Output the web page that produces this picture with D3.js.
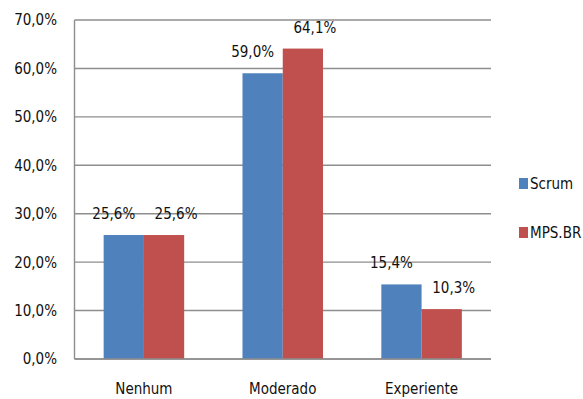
<!DOCTYPE html>
<html lang="pt">
<head>
  <meta charset="UTF-8">
  <title>Experiência</title>
  <script src="https://d3js.org/d3.v7.min.js"></script>
  <style>
    body {
      margin: 0;
      background: #fff;
      overflow: hidden;
    }
    text {
      font-family: "DejaVu Sans Condensed", "Liberation Sans Narrow", "DejaVu Sans", sans-serif;
      fill: #111;
      font-size: 15px;
    }
  </style>
</head>
<body>
  <div id="chart"></div>
  <script>
    const categories = ["Nenhum", "Moderado", "Experiente"];
    const seriesNames = ["Scrum", "MPS.BR"];
    const scrumValues = [25.6, 59.0, 15.4];
    const mpsValues = [25.6, 64.1, 10.3];
    const yTicks = [0, 10, 20, 30, 40, 50, 60, 70];

    const colors = { "Scrum": "#4f81bd", "MPS.BR": "#c0504d" };
    const fmt = v => v.toFixed(1).replace(".", ",") + "%";

    const width = 583, height = 399;
    const margin = { top: 20, right: 92, bottom: 40, left: 74.5 };

    const svg = d3.select("#chart").append("svg")
      .attr("width", width)
      .attr("height", height);

    const x = d3.scaleBand()
      .domain(categories)
      .range([margin.left, width - margin.right])
      .paddingInner(0.42)
      .paddingOuter(0.21);

    const xs = d3.scaleBand()
      .domain(seriesNames)
      .range([0, x.bandwidth()]);

    const y = d3.scaleLinear()
      .domain([0, 70])
      .range([height - margin.bottom, margin.top]);

    // gridlines
    svg.append("g")
      .selectAll("line")
      .data(yTicks)
      .join("line")
      .attr("x1", margin.left)
      .attr("x2", width - margin.right)
      .attr("y1", d => y(d))
      .attr("y2", d => y(d))
      .attr("stroke", "#8e8e8e")
      .attr("stroke-width", 1.4);

    // y labels
    svg.append("g")
      .selectAll("text")
      .data(yTicks)
      .join("text")
      .attr("x", 57)
      .attr("y", d => y(d))
      .attr("dy", "0.36em")
      .attr("text-anchor", "end")
      .text(d => fmt(d));

    const rows = categories.map((c, i) => ({
      cat: c,
      vals: [
        { name: "Scrum", value: scrumValues[i] },
        { name: "MPS.BR", value: mpsValues[i] }
      ]
    }));

    const groups = svg.append("g")
      .selectAll("g")
      .data(rows)
      .join("g")
      .attr("transform", d => `translate(${x(d.cat)},0)`);

    groups.selectAll("rect")
      .data(d => d.vals)
      .join("rect")
      .attr("x", d => xs(d.name))
      .attr("width", xs.bandwidth())
      .attr("y", d => y(d.value))
      .attr("height", d => y(0) - y(d.value))
      .attr("fill", d => colors[d.name]);

    groups.selectAll("text.val")
      .data(d => d.vals)
      .join("text")
      .attr("class", "val")
      .attr("x", (d, i) => xs(d.name) + xs.bandwidth() / 2 + (i === 0 ? -10 : 12))
      .attr("y", d => y(d.value) - 16)
      .attr("text-anchor", "middle")
      .text(d => fmt(d.value));

    // axes lines
    svg.append("line")
      .attr("x1", margin.left).attr("x2", margin.left)
      .attr("y1", y(70)).attr("y2", y(0))
      .attr("stroke", "#8e8e8e").attr("stroke-width", 1.4);
    svg.append("line")
      .attr("x1", margin.left).attr("x2", width - margin.right)
      .attr("y1", y(0)).attr("y2", y(0))
      .attr("stroke", "#8e8e8e").attr("stroke-width", 1.6);

    // category labels
    svg.append("g")
      .selectAll("text")
      .data(categories)
      .join("text")
      .attr("x", d => x(d) + x.bandwidth() / 2)
      .attr("y", 394)
      .attr("text-anchor", "middle")
      .text(d => d);

    // legend
    const legend = svg.append("g")
      .selectAll("g")
      .data(seriesNames)
      .join("g")
      .attr("transform", (d, i) => `translate(519,${184 + i * 49})`);

    legend.append("rect")
      .attr("x", 0)
      .attr("y", -6)
      .attr("width", 9)
      .attr("height", 11)
      .attr("fill", d => colors[d]);

    legend.append("text")
      .attr("x", 11)
      .attr("y", 0)
      .attr("dy", "0.36em")
      .text(d => d);
  </script>
</body>
</html>
